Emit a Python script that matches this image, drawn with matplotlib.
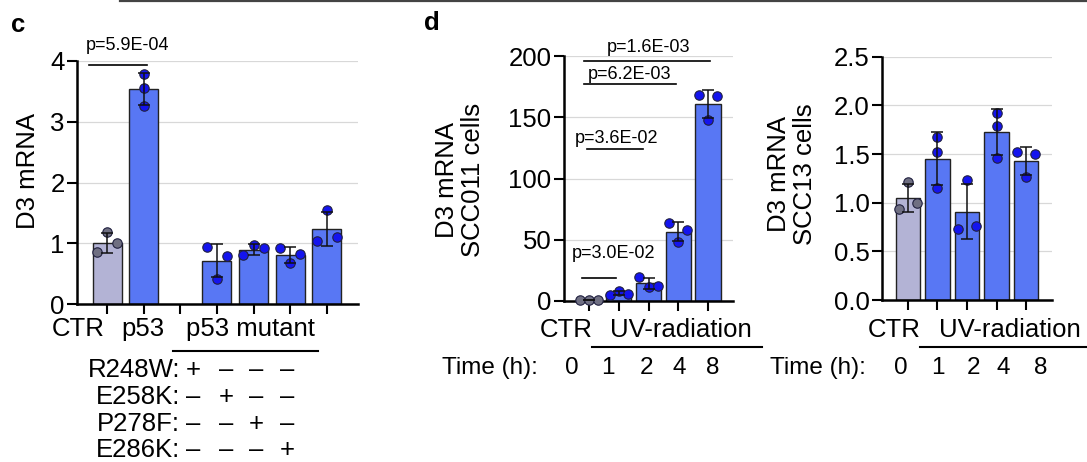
import numpy as np
import matplotlib
matplotlib.use("Agg")
import matplotlib.pyplot as plt
from matplotlib.lines import Line2D

plt.rcParams['font.family'] = ['Liberation Sans', 'DejaVu Sans']

# panel c: D3 mRNA, CTR / p53 / four p53 mutants, 3 replicates each
c_pos = [0, 1, 3, 4, 5, 6]
c_reps = [
    [0.85, 1.18, 1.00],   # CTR
    [3.79, 3.55, 3.26],   # p53
    [0.94, 0.41, 0.79],   # R248W
    [0.80, 0.97, 0.92],   # E258K
    [0.92, 0.67, 0.83],   # P278F
    [1.03, 1.55, 1.11],   # E286K
]
c_spread = [True, False, True, True, True, True]
mutants = ['R248W:', 'E258K:', 'P278F:', 'E286K:']

# panel d: UV time course, 0 = CTR
times = ['0', '1', '2', '4', '8']
scc011 = [[0.9, 1.1, 1.0], [4.9, 8.2, 5.7], [19.5, 11.5, 12.5], [64, 48, 58], [168, 148, 167]]
scc011_spread = [True, True, True, True, True]
scc13 = [[0.94, 1.21, 1.00], [1.68, 1.52, 1.15], [0.73, 1.23, 0.76], [1.92, 1.79, 1.46], [1.52, 1.26, 1.50]]
scc13_spread = [True, False, True, False, True]

# significance brackets: (x0, x1, y, label, text x, text y)
c_sig = [(-0.49, 1.09, 3.93, 'p=5.9E-04', -0.57, 4.26)]
d1_sig = [
    (-0.17, 4.07, 196, 'p=1.6E-03', 1.99, 207),
    (-0.17, 2.93, 177, 'p=6.2E-03', 1.35, 185),
    (-0.07, 1.82, 124, 'p=3.6E-02', 0.91, 133),
    (-0.24, 0.91, 18.8, 'p=3.0E-02', 0.81, 38.4),
]

W, H = 1087, 462
BIG = 18.5
CTR_BAR, BAR = '#b3b3d5', '#5877f4'
CTR_DOT, DOT = '#6f6f82', '#1414ee'

fig = plt.figure(figsize=(W / 100, H / 100), dpi=100)


def box(l, r, t, b):
    return [l / W, 1 - b / H, (r - l) / W, (b - t) / H]


def ftext(x, y, s, **kw):
    kw.setdefault('ha', 'center')
    kw.setdefault('va', 'center')
    kw.setdefault('fontsize', BIG)
    fig.text(x / W, 1 - y / H, s, **kw)


def bars(ax, pos, reps, spread, width, off):
    for i, (x, r) in enumerate(zip(pos, reps)):
        r = np.array(r, dtype=float)
        m, sd = r.mean(), r.std(ddof=1)
        ctr = i == 0
        ax.bar(x, m, width=width, color=CTR_BAR if ctr else BAR,
               edgecolor='#222222', linewidth=1.0, zorder=2)
        dx = np.array([-off, 0, off]) if spread[i] else np.zeros(3)
        ax.scatter(x + dx, r, s=46, color=CTR_DOT if ctr else DOT,
                   edgecolor='#202040', linewidth=0.8, zorder=3, clip_on=False)
        ax.errorbar(x, m, yerr=sd, fmt='none', ecolor='#111111',
                    elinewidth=1.1, capsize=4.5, capthick=1.1, zorder=4)


def style(ax, xlim, ylim, yticks, ylabels):
    ax.set_xlim(*xlim)
    ax.set_ylim(*ylim)
    ax.set_yticks(yticks)
    ax.set_yticklabels(ylabels)
    for s in ['top', 'right']:
        ax.spines[s].set_visible(False)
    for s in ['left', 'bottom']:
        ax.spines[s].set_linewidth(1.8)
    ax.tick_params(direction='out', length=7, width=1.5, labelsize=BIG, pad=2)
    ax.tick_params(axis='x', labelbottom=False)
    ax.grid(axis='y', color='#d8d8d8', linewidth=0.9)
    ax.set_axisbelow(True)


def brackets(ax, sig):
    for x0, x1, y, lab, tx, ty in sig:
        ax.plot([x0, x1], [y, y], color='black', lw=1.2, clip_on=False)
        ax.text(tx, ty, lab, fontsize=13, ha='center' if lab != 'p=5.9E-04' else 'left',
                va='center')


# ---- panel c
axc = fig.add_axes(box(77, 358, 61, 304))
bars(axc, c_pos, c_reps, c_spread, 0.79, 0.28)
style(axc, (-0.82, 6.85), (0, 4), range(5), [str(v) for v in range(5)])
axc.set_xticks(range(7))
brackets(axc, c_sig)

ftext(18, 25, 'c', fontweight='bold')
ftext(28, 171, 'D3 mRNA', rotation=90)
ftext(78, 329, 'CTR')
ftext(143, 329, 'p53')
ftext(250, 329, 'p53 mutant')
fig.add_artist(Line2D([173 / W, 318 / W], [1 - 351 / H] * 2, color='black', lw=1.5))
sign_x = [193, 226, 256, 287]
for row, (lab, y) in enumerate(zip(mutants, [370, 397, 424, 450])):
    ftext(180, y, lab, ha='right')
    for col, x in enumerate(sign_x):
        ftext(x, y, '+' if col == row else '–')

# ---- panel d, SCC011
axd1 = fig.add_axes(box(564, 733, 56, 301))
bars(axd1, range(5), scc011, scc011_spread, 0.845, 0.31)
style(axd1, (-0.84, 4.84), (0, 200), range(0, 201, 50), [str(v) for v in range(0, 201, 50)])
axd1.set_xticks(range(5))
brackets(axd1, d1_sig)

ftext(432, 23, 'd', fontweight='bold')
ftext(460, 180, 'D3 mRNA\nSCC011 cells', rotation=90, linespacing=1.1)

# ---- panel d, SCC13
axd2 = fig.add_axes(box(882, 1052, 56.7, 300))
bars(axd2, range(5), scc13, scc13_spread, 0.845, 0.29)
yt = [0, 0.5, 1.0, 1.5, 2.0, 2.5]
style(axd2, (-0.88, 4.88), (0, 2.5), yt, ['%.1f' % v for v in yt])
axd2.set_xticks(range(5))
ftext(792, 174, 'D3 mRNA\nSCC13 cells', rotation=90, linespacing=1.1)

# shared x annotations under the two UV panels
for ctr_x, uv_x, line, time_x, digits in [
        (566, 681, (592, 762), 490, [572, 608, 646, 679, 713]),
        (894, 1010, (920, 1090), 818, [901, 938, 974, 1003, 1041])]:
    ftext(ctr_x, 330, 'CTR')
    ftext(uv_x, 330, 'UV-radiation')
    fig.add_artist(Line2D([line[0] / W, line[1] / W], [1 - 347 / H] * 2, color='black', lw=1.5))
    ftext(time_x, 368, 'Time (h):', fontsize=17.5)
    for x, t in zip(digits, times):
        ftext(x, 368, t, fontsize=17.5)

# rule across the top
fig.add_artist(Line2D([120 / W, 1.0], [1 - 1 / H] * 2, color='#444444', lw=1.6))

fig.savefig('out.png', dpi=100)
